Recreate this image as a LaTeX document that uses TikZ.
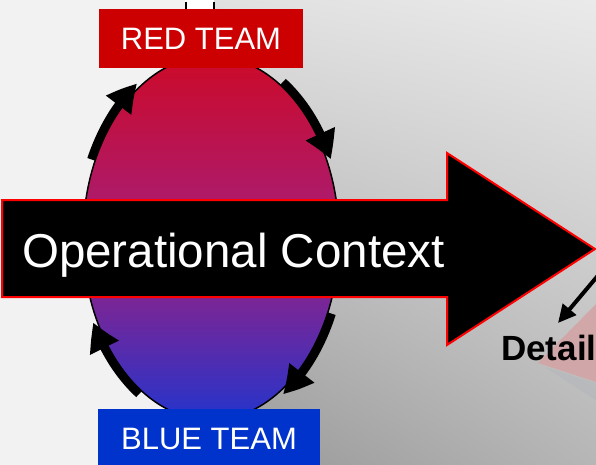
\documentclass[tikz,border=0pt]{standalone}
\usepackage{fontspec}
\setmainfont{Liberation Sans}
\usetikzlibrary{shapes.geometric,arrows.meta,bending,shadings}
\definecolor{bgl}{HTML}{F2F2F2}
\definecolor{bgul}{HTML}{E0E0E0}
\definecolor{bgur}{HTML}{EAEAEA}
\definecolor{bgll}{HTML}{969696}
\definecolor{bglr}{HTML}{B6B6B6}
\definecolor{redbox}{HTML}{CC0000}
\definecolor{bluebox}{HTML}{0033CC}
\definecolor{elltop}{HTML}{CC0A28}
\definecolor{ellmid}{HTML}{A61E7A}
\definecolor{ellbot}{HTML}{2434CC}
\definecolor{pinkish}{HTML}{D4A2A4}
\definecolor{shadowc}{HTML}{A8B0B8}
\tikzset{
  teambox/.style={rectangle, inner sep=0pt, text=white, font=\fontsize{31}{31}\selectfont},
  cyclearrow/.style={line width=8.5pt, -{Triangle[length=28pt,width=30pt,bend]}},
}
\begin{document}
\begin{tikzpicture}[x=1pt,y=-1pt]
\useasboundingbox (0,0) rectangle (596,465);
\clip (0,0) rectangle (596,465);
% background
\fill[bgl] (0,0) rectangle (200,465);
\shade[upper left=bgul, upper right=bgur, lower left=bgll, lower right=bglr]
  (200,0) rectangle (596,465);
% top white element
\fill[white] (185,0) rectangle (214,9);
\draw[line width=2pt] (186,2) -- (186,9) (213.5,2) -- (213.5,9);
% pink triangle and shadow behind Detail
\fill[pinkish, opacity=0.85] (538,363) -- (596,304) -- (596,382) -- cycle;
\fill[shadowc, opacity=0.3] (545,367) -- (596,383) -- (596,400) -- cycle;
% ellipse
\node[ellipse, draw=black, line width=1.5pt, minimum width=256pt, minimum height=364pt,
      top color=elltop, bottom color=ellbot, middle color=ellmid] (ell) at (211,238) {};
% cycle arrows
\draw[cyclearrow] ([shift={(-155:132 and 186)}]ell.center) arc[start angle=-155, end angle=-124, x radius=132, y radius=186];
\draw[cyclearrow] ([shift={(-57:132 and 186)}]ell.center) arc[start angle=-57, end angle=-25, x radius=132, y radius=186];
\draw[cyclearrow] ([shift={(24:132 and 186)}]ell.center) arc[start angle=24, end angle=57, x radius=132, y radius=186];
\draw[cyclearrow] ([shift={(123:132 and 186)}]ell.center) arc[start angle=123, end angle=153, x radius=132, y radius=186];
% block arrow
\draw[fill=black, draw=red, line width=2pt, line join=miter]
  (2,200) -- (447,200) -- (447,153) -- (595,249) -- (447,345) -- (447,297) -- (2,297) -- cycle;
\node[anchor=base west, inner sep=0pt, text=white, font=\fontsize{47.5}{47.5}\selectfont] (ctx) at (22,267) {Operational Context};
% team boxes
\node[teambox, fill=redbox, minimum width=204pt, minimum height=59pt] (red) at (201,38.5) {RED TEAM};
\node[teambox, fill=bluebox, minimum width=222pt, minimum height=60pt] (blue) at (209,439) {BLUE TEAM};
% detail
\node[anchor=base west, inner sep=0pt, font=\fontsize{35}{35}\selectfont\bfseries] (det) at (501,360) {Detail};
\coordinate (ds) at (606,266);
\coordinate (de) at (558,323);
\draw[line width=4pt, -{Triangle[length=18pt,width=17pt]}] (ds) -- (de);
\end{tikzpicture}
\end{document}
